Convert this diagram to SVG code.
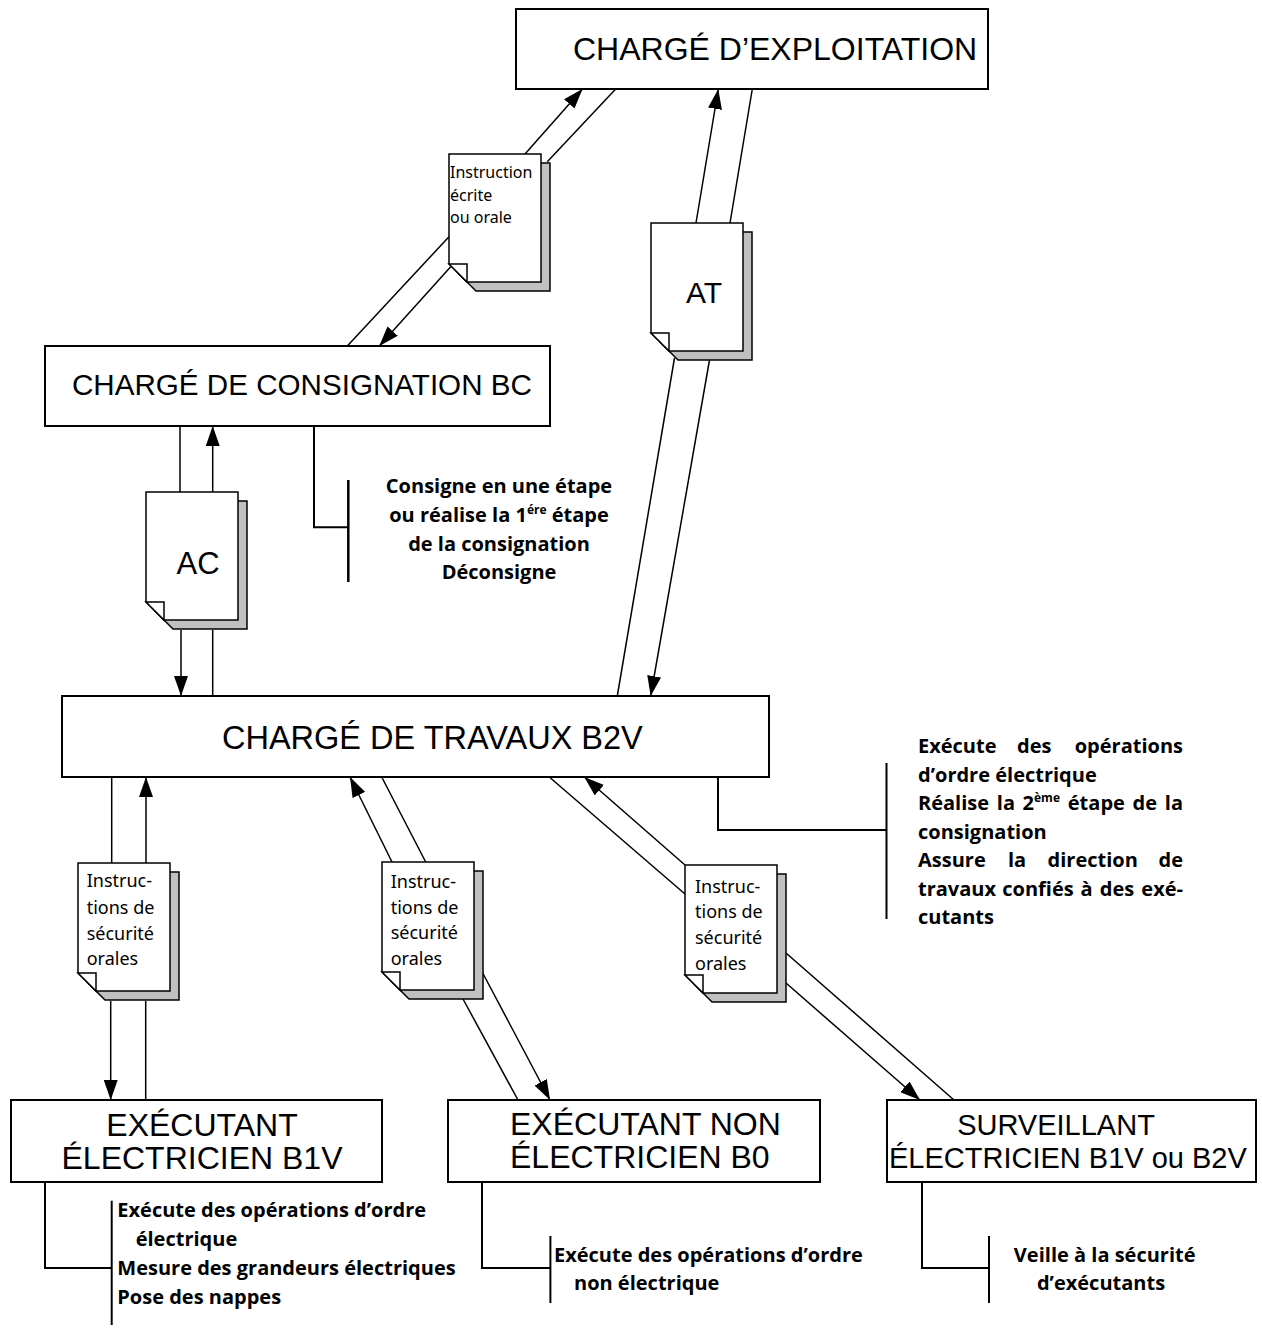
<svg xmlns="http://www.w3.org/2000/svg" xmlns:xlink="http://www.w3.org/1999/xlink" width="1262" height="1330" viewBox="0 0 1262 1330">
<style>
.box{fill:#fff;stroke:#000;stroke-width:2}
.ln{stroke:#000;stroke-width:1.5;fill:none}
.arr{marker-end:url(#ah)}
.br{stroke:#000;stroke-width:2;fill:none}
.doc{fill:#fff;stroke:#000;stroke-width:1.5}
.shd{fill:#c0c0c0;stroke:#000;stroke-width:1.5}
.big{font-family:"Liberation Sans",Arial,sans-serif;font-size:30px;fill:#000}
.note{font-family:"Open Sans","Noto Sans",sans-serif;font-weight:bold;font-size:20px;fill:#000}
.dt{font-family:"Noto Sans","Open Sans",sans-serif;font-size:18px;fill:#000}
.sup{font-size:12px}
</style>
<defs>
<marker id="ah" markerUnits="userSpaceOnUse" markerWidth="20" markerHeight="14" refX="20" refY="7" orient="auto" viewBox="0 0 20 14">
<path d="M0,0 L20,7 L0,14 Z" fill="#000"/>
</marker>
<g id="docshape">
<path class="shd" d="M9,9 H101 V137 H27 L9,119 Z"/>
<path class="doc" d="M0,0 H92 V128 H18 L0,110 Z"/>
<path class="doc" d="M0,110 H18 V128 Z"/>
</g>
</defs>
<rect width="1262" height="1330" fill="#fff"/>

<g id="connectors">
<line class="ln arr" x1="525" y1="154" x2="582.5" y2="89"/>
<line class="ln" x1="547.3" y1="161.7" x2="615.7" y2="89"/>
<line class="ln" x1="449" y1="236.7" x2="347.3" y2="346"/>
<line class="ln arr" x1="450.7" y1="266.7" x2="379.3" y2="346"/>
<line class="ln arr" x1="696" y1="223" x2="718.3" y2="89"/>
<line class="ln" x1="730" y1="223" x2="752.3" y2="89"/>
<line class="ln" x1="674.5" y1="358" x2="617.3" y2="696"/>
<line class="ln arr" x1="709.5" y1="360" x2="650.7" y2="696"/>
<line class="ln" x1="180" y1="426" x2="180" y2="492"/>
<line class="ln arr" x1="212.7" y1="492" x2="212.7" y2="426"/>
<line class="ln arr" x1="181" y1="630" x2="181" y2="696"/>
<line class="ln" x1="212.7" y1="630" x2="212.7" y2="696"/>
<line class="ln" x1="111.7" y1="777" x2="111.7" y2="863"/>
<line class="ln arr" x1="146" y1="863" x2="146" y2="777"/>
<line class="ln arr" x1="110.7" y1="1001" x2="110.7" y2="1100"/>
<line class="ln" x1="145.7" y1="1001" x2="145.7" y2="1100"/>
<line class="ln arr" x1="392" y1="862" x2="350" y2="777"/>
<line class="ln" x1="425.7" y1="862" x2="381.7" y2="777"/>
<line class="ln" x1="463" y1="999" x2="518" y2="1100"/>
<line class="ln arr" x1="482.7" y1="973" x2="550" y2="1100"/>
<line class="ln arr" x1="685" y1="865" x2="584.3" y2="777"/>
<line class="ln" x1="685" y1="894" x2="549.3" y2="777"/>
<line class="ln arr" x1="786" y1="983" x2="920" y2="1100"/>
<line class="ln" x1="786" y1="953" x2="954" y2="1100"/>
</g>

<g id="brackets">
<polyline class="br" points="314,426 314,527.3 348.3,527.3"/>
<line class="br" x1="348.3" y1="480" x2="348.3" y2="582" style="stroke-width:2.5"/>
<polyline class="br" points="718,777 718,830 886.5,830"/>
<line class="br" x1="886.5" y1="763" x2="886.5" y2="919"/>
<polyline class="br" points="45,1182 45,1268 111.7,1268"/>
<line class="br" x1="111.7" y1="1200.7" x2="111.7" y2="1325"/>
<polyline class="br" points="482,1182 482,1268 550.4,1268"/>
<line class="br" x1="550.4" y1="1236" x2="550.4" y2="1303"/>
<polyline class="br" points="922,1182 922,1268 989,1268"/>
<line class="br" x1="989" y1="1236" x2="989" y2="1303"/>
</g>

<g id="node-exploitation">
<rect class="box" x="516" y="9" width="472" height="80"/>
<text class="big" x="573" y="60" style="font-size:32px">CHARGÉ D’EXPLOITATION</text>
</g>

<g id="node-consignation">
<rect class="box" x="45" y="346" width="505" height="80"/>
<text class="big" x="72" y="395" style="font-size:29.6px">CHARGÉ DE CONSIGNATION BC</text>
</g>

<g id="node-travaux">
<rect class="box" x="62" y="696" width="707" height="81"/>
<text class="big" x="222" y="749" style="font-size:32.5px">CHARGÉ DE TRAVAUX B2V</text>
</g>

<g id="node-b1v">
<rect class="box" x="11" y="1100" width="371" height="82"/>
<text class="big" x="202" y="1135.7" text-anchor="middle" style="font-size:32px">EXÉCUTANT</text>
<text class="big" x="202" y="1169" text-anchor="middle" style="font-size:32px">ÉLECTRICIEN B1V</text>
</g>

<g id="node-b0">
<rect class="box" x="448" y="1100" width="372" height="82"/>
<text class="big" x="510" y="1135" style="font-size:32px">EXÉCUTANT NON</text>
<text class="big" x="510" y="1168" style="font-size:32px">ÉLECTRICIEN B0</text>
</g>

<g id="node-surveillant">
<rect class="box" x="887" y="1100" width="369" height="82"/>
<text class="big" x="1056" y="1135" text-anchor="middle" style="font-size:29px">SURVEILLANT</text>
<text class="big" x="889" y="1168" style="font-size:29px">ÉLECTRICIEN B1V ou B2V</text>
</g>

<g id="doc-instruction">
<use xlink:href="#docshape" x="449" y="154"/>
<text class="dt" style="font-size:16px"><tspan x="450" y="178.3">Instruction</tspan><tspan x="450" y="201">écrite</tspan><tspan x="450" y="223.3">ou orale</tspan></text>
</g>

<g id="doc-at">
<use xlink:href="#docshape" x="651" y="223"/>
<text class="big" x="704" y="303" text-anchor="middle">AT</text>
</g>

<g id="doc-ac">
<use xlink:href="#docshape" x="146" y="492"/>
<text class="big" x="198" y="574" text-anchor="middle" style="font-size:31px">AC</text>
</g>

<g id="doc-instr1">
<use xlink:href="#docshape" x="78" y="863"/>
<text class="dt"><tspan x="86.7" y="886.7">Instruc-</tspan><tspan x="86.7" y="914">tions de</tspan><tspan x="86.7" y="940">sécurité</tspan><tspan x="86.7" y="965">orales</tspan></text>
</g>

<g id="doc-instr2">
<use xlink:href="#docshape" x="382" y="862"/>
<text class="dt"><tspan x="390.7" y="888">Instruc-</tspan><tspan x="390.7" y="914">tions de</tspan><tspan x="390.7" y="939">sécurité</tspan><tspan x="390.7" y="965">orales</tspan></text>
</g>

<g id="doc-instr3">
<use xlink:href="#docshape" x="685" y="865"/>
<text class="dt"><tspan x="695" y="892.7">Instruc-</tspan><tspan x="695" y="918.3">tions de</tspan><tspan x="695" y="944.3">sécurité</tspan><tspan x="695" y="970">orales</tspan></text>
</g>

<g id="note-consignation">
<text class="note" x="499" y="492.7" text-anchor="middle">Consigne en une étape</text>
<text class="note" x="499" y="521.7" text-anchor="middle">ou réalise la 1<tspan class="sup" dy="-8">ére</tspan><tspan dy="8"> étape</tspan></text>
<text class="note" x="499" y="550.7" text-anchor="middle">de la consignation</text>
<text class="note" x="499" y="579.3" text-anchor="middle">Déconsigne</text>
</g>

<g id="note-travaux">
<text class="note" y="753"><tspan x="918">Exécute</tspan><tspan x="1017">des</tspan><tspan x="1183" text-anchor="end">opérations</tspan></text>
<text class="note" x="918" y="782">d’ordre électrique</text>
<text class="note" y="810"><tspan x="918">Réalise</tspan><tspan x="996.8">la</tspan><tspan x="1022.6">2</tspan><tspan class="sup" dy="-8">ème</tspan><tspan x="1067.8" dy="8">étape</tspan><tspan x="1132.6">de</tspan><tspan x="1183" text-anchor="end">la</tspan></text>
<text class="note" x="918" y="839">consignation</text>
<text class="note" y="867"><tspan x="918">Assure</tspan><tspan x="1007.9">la</tspan><tspan x="1047.6">direction</tspan><tspan x="1183" text-anchor="end">de</tspan></text>
<text class="note" y="896"><tspan x="918">travaux</tspan><tspan x="1002.3">confiés</tspan><tspan x="1080.5">à</tspan><tspan x="1099.8">des</tspan><tspan x="1183" text-anchor="end">exé-</tspan></text>
<text class="note" x="918" y="924">cutants</text>
</g>

<g id="note-b1v">
<text class="note" x="117.3" y="1216.7">Exécute des opérations d’ordre</text>
<text class="note" x="135.7" y="1246">électrique</text>
<text class="note" x="117.3" y="1275">Mesure des grandeurs électriques</text>
<text class="note" x="117.3" y="1304.3">Pose des nappes</text>
</g>

<g id="note-b0">
<text class="note" x="554" y="1261.7">Exécute des opérations d’ordre</text>
<text class="note" x="574" y="1290">non électrique</text>
</g>

<g id="note-surveillant">
<text class="note" x="1104.7" y="1261.7" text-anchor="middle">Veille à la sécurité</text>
<text class="note" x="1101" y="1290" text-anchor="middle">d’exécutants</text>
</g>
</svg>
